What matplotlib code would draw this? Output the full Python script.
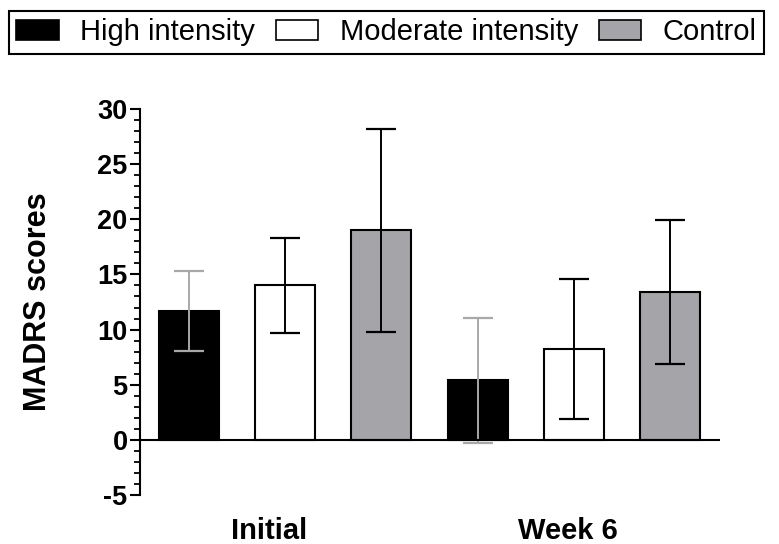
import numpy as np
import matplotlib
matplotlib.use('Agg')
import matplotlib.pyplot as plt
from matplotlib.ticker import MultipleLocator
from matplotlib.patches import Patch

plt.rcParams['font.family'] = ['Liberation Sans', 'DejaVu Sans']
plt.rcParams['axes.unicode_minus'] = False

# Datos (media y desviacion)
groups = ['Initial', 'Week 6']
series = ['High intensity', 'Moderate intensity', 'Control']
high_mean = [11.7, 5.4]
high_sd = [3.65, 5.65]
moderate_mean = [14.0, 8.2]
moderate_sd = [4.3, 6.35]
control_mean = [19.0, 13.4]
control_sd = [9.2, 6.5]

means = [high_mean, moderate_mean, control_mean]
sds = [high_sd, moderate_sd, control_sd]
colors = ['black', 'white', '#a4a4a9']
err_colors = ['#a8a8a8', 'black', 'black']

fig = plt.figure(figsize=(7.79, 5.44), dpi=100)
ax = fig.add_axes([140/779, 1 - 495/544, 580/779, 386/544])

for i in range(len(series)):
    x = np.arange(len(groups)) * 3 + i
    ax.bar(x, means[i], width=0.625, color=colors[i], edgecolor='black',
           linewidth=1.5, zorder=2)
    ax.errorbar(x, means[i], yerr=sds[i], fmt='none', ecolor=err_colors[i],
                elinewidth=1.4, capsize=11, capthick=1.6, zorder=3)

ax.axhline(0, color='black', linewidth=1.5, zorder=4)

ax.set_xlim(-0.51, 5.52)
ax.set_ylim(-5, 30)
ax.yaxis.set_major_locator(MultipleLocator(5))
ax.yaxis.set_minor_locator(MultipleLocator(1))
for s in ['top', 'right', 'bottom']:
    ax.spines[s].set_visible(False)
ax.spines['left'].set_linewidth(1.5)
ax.tick_params(axis='y', which='major', length=7, width=1.5, labelsize=19.5, pad=2)
ax.tick_params(axis='y', which='minor', length=4, width=1.3)
for lbl in ax.get_yticklabels():
    lbl.set_fontweight('bold')

ax.set_xticks([0.83, 3.94])
ax.set_xticklabels(groups, fontsize=21, fontweight='bold')
ax.tick_params(axis='x', length=0, pad=16)

ax.set_ylabel('MADRS scores', fontsize=22, fontweight='bold')
ax.yaxis.set_label_coords(-0.15, 0.5)

handles = [Patch(facecolor=c, edgecolor='black', linewidth=1.2) for c in colors]
fig.legend(handles, series, loc='upper left', bbox_to_anchor=(9/779, 1 - 11/544),
           ncol=3, fontsize=21, frameon=True, fancybox=False, edgecolor='black',
           borderaxespad=0, borderpad=0.25, handlelength=1.45, handleheight=0.72,
           handletextpad=0.75, columnspacing=0.7, framealpha=1)
fig.legends[0].get_frame().set_linewidth(1.5)

fig.savefig('out.png', dpi=100)
